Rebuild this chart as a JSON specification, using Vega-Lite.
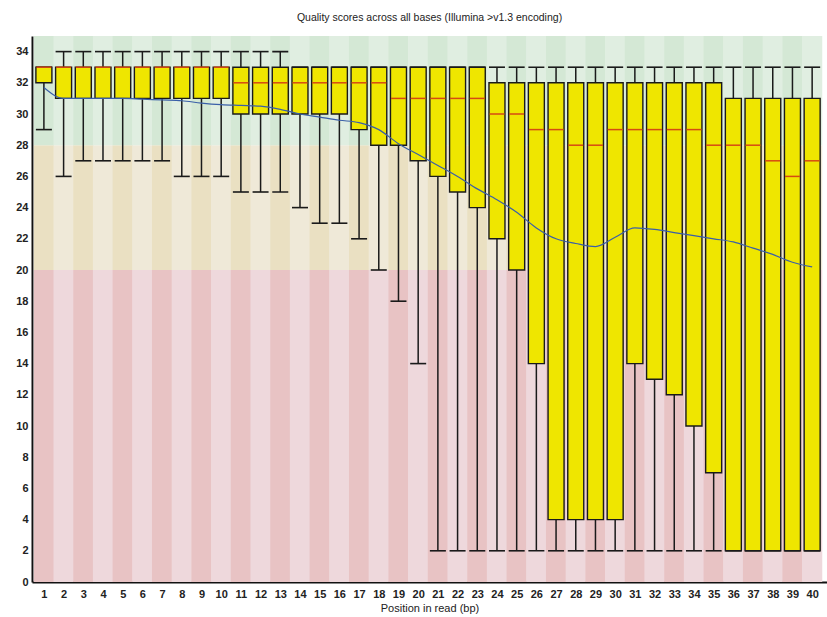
{
  "$schema": "https://vega.github.io/schema/vega-lite/v6.json",
  "width": 795,
  "height": 546,
  "autosize": {"type": "none"},
  "padding": {"left": 32, "top": 36, "right": 0, "bottom": 35},
  "background": "white",
  "title": {"text": "Quality scores across all bases (Illumina >v1.3 encoding)", "font": "Liberation Sans", "fontSize": 10.5, "fontWeight": "normal", "color": "#222222", "anchor": "middle", "offset": 13},
  "config": {
    "view": {"stroke": null},
    "axis": {"grid": false, "domainColor": "#111111", "domainWidth": 2, "ticks": false, "labelOverlap": false, "labelFlush": false, "labelBound": false, "labelFont": "Liberation Sans", "labelFontSize": 11, "labelFontWeight": "bold", "labelColor": "#222222", "titleFont": "Liberation Sans", "titleFontSize": 11, "titleFontWeight": "normal", "titleColor": "#222222"},
    "axisX": {"labelPadding": 6, "titlePadding": 3},
    "axisY": {"labelPadding": 4}
  },
  "datasets": {
    "stripes": [
      {"pos": 1, "parity": "odd"}, {"pos": 2, "parity": "even"}, {"pos": 3, "parity": "odd"}, {"pos": 4, "parity": "even"},
      {"pos": 5, "parity": "odd"}, {"pos": 6, "parity": "even"}, {"pos": 7, "parity": "odd"}, {"pos": 8, "parity": "even"},
      {"pos": 9, "parity": "odd"}, {"pos": 10, "parity": "even"}, {"pos": 11, "parity": "odd"}, {"pos": 12, "parity": "even"},
      {"pos": 13, "parity": "odd"}, {"pos": 14, "parity": "even"}, {"pos": 15, "parity": "odd"}, {"pos": 16, "parity": "even"},
      {"pos": 17, "parity": "odd"}, {"pos": 18, "parity": "even"}, {"pos": 19, "parity": "odd"}, {"pos": 20, "parity": "even"},
      {"pos": 21, "parity": "odd"}, {"pos": 22, "parity": "even"}, {"pos": 23, "parity": "odd"}, {"pos": 24, "parity": "even"},
      {"pos": 25, "parity": "odd"}, {"pos": 26, "parity": "even"}, {"pos": 27, "parity": "odd"}, {"pos": 28, "parity": "even"},
      {"pos": 29, "parity": "odd"}, {"pos": 30, "parity": "even"}, {"pos": 31, "parity": "odd"}, {"pos": 32, "parity": "even"},
      {"pos": 33, "parity": "odd"}, {"pos": 34, "parity": "even"}, {"pos": 35, "parity": "odd"}, {"pos": 36, "parity": "even"},
      {"pos": 37, "parity": "odd"}, {"pos": 38, "parity": "even"}, {"pos": 39, "parity": "odd"}, {"pos": 40, "parity": "even"}
    ],
    "quality": [
      {"pos": 1, "low": 29, "q1": 32, "med": 33, "q3": 33, "high": 33, "mean": 31.7},
      {"pos": 2, "low": 26, "q1": 31, "med": 33, "q3": 33, "high": 34, "mean": 31.0},
      {"pos": 3, "low": 27, "q1": 31, "med": 33, "q3": 33, "high": 34, "mean": 31.0},
      {"pos": 4, "low": 27, "q1": 31, "med": 33, "q3": 33, "high": 34, "mean": 31.0},
      {"pos": 5, "low": 27, "q1": 31, "med": 33, "q3": 33, "high": 34, "mean": 31.0},
      {"pos": 6, "low": 27, "q1": 31, "med": 33, "q3": 33, "high": 34, "mean": 30.95},
      {"pos": 7, "low": 27, "q1": 31, "med": 33, "q3": 33, "high": 34, "mean": 30.9},
      {"pos": 8, "low": 26, "q1": 31, "med": 33, "q3": 33, "high": 34, "mean": 30.85},
      {"pos": 9, "low": 26, "q1": 31, "med": 33, "q3": 33, "high": 34, "mean": 30.7},
      {"pos": 10, "low": 26, "q1": 31, "med": 33, "q3": 33, "high": 34, "mean": 30.6},
      {"pos": 11, "low": 25, "q1": 30, "med": 32, "q3": 33, "high": 34, "mean": 30.55},
      {"pos": 12, "low": 25, "q1": 30, "med": 32, "q3": 33, "high": 34, "mean": 30.5},
      {"pos": 13, "low": 25, "q1": 30, "med": 32, "q3": 33, "high": 34, "mean": 30.3},
      {"pos": 14, "low": 24, "q1": 30, "med": 32, "q3": 33, "high": 33, "mean": 30.0},
      {"pos": 15, "low": 23, "q1": 30, "med": 32, "q3": 33, "high": 33, "mean": 29.8},
      {"pos": 16, "low": 23, "q1": 30, "med": 32, "q3": 33, "high": 33, "mean": 29.6},
      {"pos": 17, "low": 22, "q1": 29, "med": 32, "q3": 33, "high": 33, "mean": 29.45},
      {"pos": 18, "low": 20, "q1": 28, "med": 32, "q3": 33, "high": 33, "mean": 29.0},
      {"pos": 19, "low": 18, "q1": 28, "med": 31, "q3": 33, "high": 33, "mean": 28.1},
      {"pos": 20, "low": 14, "q1": 27, "med": 31, "q3": 33, "high": 33, "mean": 27.4},
      {"pos": 21, "low": 2, "q1": 26, "med": 31, "q3": 33, "high": 33, "mean": 26.7},
      {"pos": 22, "low": 2, "q1": 25, "med": 31, "q3": 33, "high": 33, "mean": 26.0},
      {"pos": 23, "low": 2, "q1": 24, "med": 31, "q3": 33, "high": 33, "mean": 25.2},
      {"pos": 24, "low": 2, "q1": 22, "med": 30, "q3": 32, "high": 33, "mean": 24.5},
      {"pos": 25, "low": 2, "q1": 20, "med": 30, "q3": 32, "high": 33, "mean": 23.7},
      {"pos": 26, "low": 2, "q1": 14, "med": 29, "q3": 32, "high": 33, "mean": 22.7},
      {"pos": 27, "low": 2, "q1": 4, "med": 29, "q3": 32, "high": 33, "mean": 22.0},
      {"pos": 28, "low": 2, "q1": 4, "med": 28, "q3": 32, "high": 33, "mean": 21.7},
      {"pos": 29, "low": 2, "q1": 4, "med": 28, "q3": 32, "high": 33, "mean": 21.5},
      {"pos": 30, "low": 2, "q1": 4, "med": 29, "q3": 32, "high": 33, "mean": 22.1},
      {"pos": 31, "low": 2, "q1": 14, "med": 29, "q3": 32, "high": 33, "mean": 22.7},
      {"pos": 32, "low": 2, "q1": 13, "med": 29, "q3": 32, "high": 33, "mean": 22.6},
      {"pos": 33, "low": 2, "q1": 12, "med": 29, "q3": 32, "high": 33, "mean": 22.4},
      {"pos": 34, "low": 2, "q1": 10, "med": 29, "q3": 32, "high": 33, "mean": 22.2},
      {"pos": 35, "low": 2, "q1": 7, "med": 28, "q3": 32, "high": 33, "mean": 22.0},
      {"pos": 36, "low": 2, "q1": 2, "med": 28, "q3": 31, "high": 33, "mean": 21.8},
      {"pos": 37, "low": 2, "q1": 2, "med": 28, "q3": 31, "high": 33, "mean": 21.4},
      {"pos": 38, "low": 2, "q1": 2, "med": 27, "q3": 31, "high": 33, "mean": 21.0},
      {"pos": 39, "low": 2, "q1": 2, "med": 26, "q3": 31, "high": 33, "mean": 20.5},
      {"pos": 40, "low": 2, "q1": 2, "med": 27, "q3": 31, "high": 33, "mean": 20.2}
    ]
  },
  "resolve": {"axis": {"x": "shared", "y": "shared"}},
  "layer": [
    {
      "data": {"name": "stripes"},
      "mark": {"type": "bar", "width": 20.2},
      "encoding": {
        "x": {"field": "pos", "type": "quantitative", "scale": {"domain": [0.65, 40.5], "nice": false, "zero": false}, "title": "Position in read (bp)", "axis": {"values": [1,2,3,4,5,6,7,8,9,10,11,12,13,14,15,16,17,18,19,20,21,22,23,24,25,26,27,28,29,30,31,32,33,34,35,36,37,38,39,40], "tickCount": 40}},
        "y": {"datum": 0, "type": "quantitative", "scale": {"domain": [0, 35], "nice": false, "zero": true}, "title": null, "axis": {"values": [0,2,4,6,8,10,12,14,16,18,20,22,24,26,28,30,32,34], "tickCount": 18}},
        "y2": {"datum": 20},
        "color": {"condition": {"test": "datum.parity === 'odd'", "value": "#e8c3c4"}, "value": "#eed8dc"}
      }
    },
    {
      "data": {"name": "stripes"},
      "mark": {"type": "bar", "width": 20.2},
      "encoding": {
        "x": {"field": "pos", "type": "quantitative", "title": "Position in read (bp)", "axis": {"values": [1,2,3,4,5,6,7,8,9,10,11,12,13,14,15,16,17,18,19,20,21,22,23,24,25,26,27,28,29,30,31,32,33,34,35,36,37,38,39,40], "tickCount": 40}},
        "y": {"datum": 20, "type": "quantitative", "title": null, "axis": {"values": [0,2,4,6,8,10,12,14,16,18,20,22,24,26,28,30,32,34], "tickCount": 18}},
        "y2": {"datum": 28},
        "color": {"condition": {"test": "datum.parity === 'odd'", "value": "#eae0c2"}, "value": "#efe9d8"}
      }
    },
    {
      "data": {"name": "stripes"},
      "mark": {"type": "bar", "width": 20.2},
      "encoding": {
        "x": {"field": "pos", "type": "quantitative", "title": "Position in read (bp)", "axis": {"values": [1,2,3,4,5,6,7,8,9,10,11,12,13,14,15,16,17,18,19,20,21,22,23,24,25,26,27,28,29,30,31,32,33,34,35,36,37,38,39,40], "tickCount": 40}},
        "y": {"datum": 28, "type": "quantitative", "title": null, "axis": {"values": [0,2,4,6,8,10,12,14,16,18,20,22,24,26,28,30,32,34], "tickCount": 18}},
        "y2": {"datum": 35},
        "color": {"condition": {"test": "datum.parity === 'odd'", "value": "#d4e8d5"}, "value": "#e0eee1"}
      }
    },
    {
      "data": {"name": "quality"},
      "mark": {"type": "rule", "color": "#1a1a1a", "strokeWidth": 1.5},
      "encoding": {
        "x": {"field": "pos", "type": "quantitative", "title": "Position in read (bp)", "axis": {"values": [1,2,3,4,5,6,7,8,9,10,11,12,13,14,15,16,17,18,19,20,21,22,23,24,25,26,27,28,29,30,31,32,33,34,35,36,37,38,39,40], "tickCount": 40}},
        "y": {"field": "low", "type": "quantitative", "title": null, "axis": {"values": [0,2,4,6,8,10,12,14,16,18,20,22,24,26,28,30,32,34], "tickCount": 18}},
        "y2": {"field": "q1"}
      }
    },
    {
      "data": {"name": "quality"},
      "mark": {"type": "rule", "color": "#1a1a1a", "strokeWidth": 1.5},
      "encoding": {
        "x": {"field": "pos", "type": "quantitative", "title": "Position in read (bp)", "axis": {"values": [1,2,3,4,5,6,7,8,9,10,11,12,13,14,15,16,17,18,19,20,21,22,23,24,25,26,27,28,29,30,31,32,33,34,35,36,37,38,39,40], "tickCount": 40}},
        "y": {"field": "q3", "type": "quantitative", "title": null, "axis": {"values": [0,2,4,6,8,10,12,14,16,18,20,22,24,26,28,30,32,34], "tickCount": 18}},
        "y2": {"field": "high"}
      }
    },
    {
      "data": {"name": "quality"},
      "mark": {"type": "tick", "orient": "horizontal", "size": 16, "thickness": 1.6, "color": "#1a1a1a", "opacity": 1},
      "encoding": {
        "x": {"field": "pos", "type": "quantitative", "title": "Position in read (bp)", "axis": {"values": [1,2,3,4,5,6,7,8,9,10,11,12,13,14,15,16,17,18,19,20,21,22,23,24,25,26,27,28,29,30,31,32,33,34,35,36,37,38,39,40], "tickCount": 40}},
        "y": {"field": "low", "type": "quantitative", "title": null, "axis": {"values": [0,2,4,6,8,10,12,14,16,18,20,22,24,26,28,30,32,34], "tickCount": 18}}
      }
    },
    {
      "data": {"name": "quality"},
      "mark": {"type": "tick", "orient": "horizontal", "size": 16, "thickness": 1.6, "color": "#1a1a1a", "opacity": 1},
      "encoding": {
        "x": {"field": "pos", "type": "quantitative", "title": "Position in read (bp)", "axis": {"values": [1,2,3,4,5,6,7,8,9,10,11,12,13,14,15,16,17,18,19,20,21,22,23,24,25,26,27,28,29,30,31,32,33,34,35,36,37,38,39,40], "tickCount": 40}},
        "y": {"field": "high", "type": "quantitative", "title": null, "axis": {"values": [0,2,4,6,8,10,12,14,16,18,20,22,24,26,28,30,32,34], "tickCount": 18}}
      }
    },
    {
      "data": {"name": "quality"},
      "mark": {"type": "bar", "width": 16, "fill": "#efe600", "stroke": "#1a1a1a", "strokeWidth": 1.4},
      "encoding": {
        "x": {"field": "pos", "type": "quantitative", "title": "Position in read (bp)", "axis": {"values": [1,2,3,4,5,6,7,8,9,10,11,12,13,14,15,16,17,18,19,20,21,22,23,24,25,26,27,28,29,30,31,32,33,34,35,36,37,38,39,40], "tickCount": 40}},
        "y": {"field": "q1", "type": "quantitative", "title": null, "axis": {"values": [0,2,4,6,8,10,12,14,16,18,20,22,24,26,28,30,32,34], "tickCount": 18}},
        "y2": {"field": "q3"}
      }
    },
    {
      "data": {"name": "quality"},
      "mark": {"type": "tick", "orient": "horizontal", "size": 15, "thickness": 1.5, "color": "#d64a12", "opacity": 1},
      "encoding": {
        "x": {"field": "pos", "type": "quantitative", "title": "Position in read (bp)", "axis": {"values": [1,2,3,4,5,6,7,8,9,10,11,12,13,14,15,16,17,18,19,20,21,22,23,24,25,26,27,28,29,30,31,32,33,34,35,36,37,38,39,40], "tickCount": 40}},
        "y": {"field": "med", "type": "quantitative", "title": null, "axis": {"values": [0,2,4,6,8,10,12,14,16,18,20,22,24,26,28,30,32,34], "tickCount": 18}}
      }
    },
    {
      "data": {"name": "quality"},
      "mark": {"type": "line", "color": "#3a5fa8", "strokeWidth": 1.2, "interpolate": "monotone"},
      "encoding": {
        "x": {"field": "pos", "type": "quantitative", "title": "Position in read (bp)", "axis": {"values": [1,2,3,4,5,6,7,8,9,10,11,12,13,14,15,16,17,18,19,20,21,22,23,24,25,26,27,28,29,30,31,32,33,34,35,36,37,38,39,40], "tickCount": 40}},
        "y": {"field": "mean", "type": "quantitative", "title": null, "axis": {"values": [0,2,4,6,8,10,12,14,16,18,20,22,24,26,28,30,32,34], "tickCount": 18}}
      }
    }
  ]
}
